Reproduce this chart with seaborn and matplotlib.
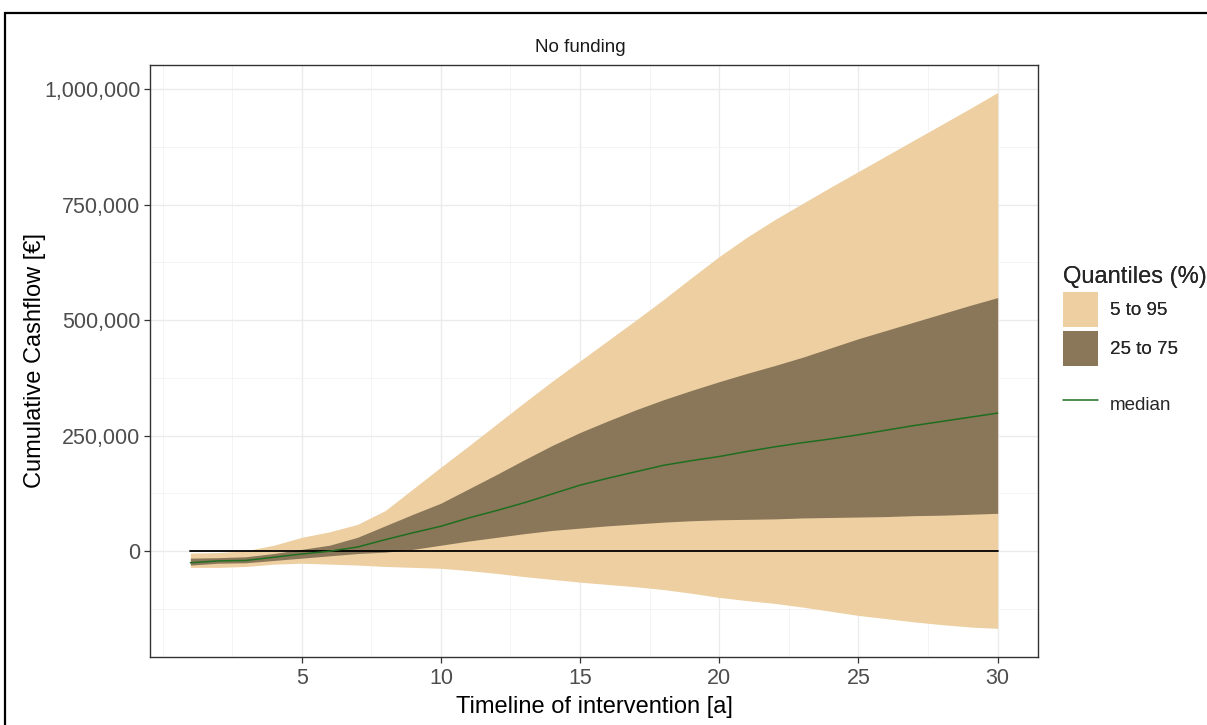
import numpy as np
import pandas as pd
import matplotlib
matplotlib.use("Agg")
import matplotlib.pyplot as plt
import seaborn as sns
from matplotlib.patches import Patch, Rectangle
from matplotlib.lines import Line2D
from matplotlib.ticker import FuncFormatter, MultipleLocator, FixedLocator

# ---- data ----
years = list(range(1, 31))
q05 = [-35000, -35000, -33000, -28000, -26000, -28000, -30000, -33000, -35000, -37000,
       -42000, -48000, -55000, -61000, -67000, -72000, -77000, -83000, -91000, -100000,
       -107000, -113000, -121000, -130000, -139000, -146000, -153000, -159000, -164000, -167000]
q25 = [-30000, -26000, -25000, -20000, -15000, -10000, -5000, -2000, 4000, 13000,
       22000, 30000, 38000, 45000, 50000, 55000, 59000, 63000, 66000, 68000,
       69000, 70000, 72000, 73000, 74000, 75000, 77000, 78000, 80000, 82000]
q50 = [-25000, -21000, -20000, -13000, -6000, 0, 9000, 25000, 40000, 54000,
       72000, 88000, 105000, 124000, 143000, 158000, 172000, 186000, 196000, 205000,
       216000, 226000, 235000, 243000, 252000, 262000, 272000, 281000, 290000, 299000]
q75 = [-15000, -14000, -12000, -5000, 4000, 13000, 30000, 55000, 80000, 104000,
       135000, 166000, 198000, 229000, 257000, 282000, 306000, 328000, 348000, 367000,
       385000, 402000, 420000, 440000, 460000, 478000, 496000, 514000, 532000, 549000]
q95 = [-4000, -3000, 1000, 13000, 30000, 42000, 58000, 88000, 135000, 182000,
       228000, 275000, 322000, 368000, 412000, 456000, 500000, 545000, 592000, 638000,
       680000, 718000, 753000, 788000, 822000, 856000, 890000, 924000, 958000, 993000]

panel_title = "No funding"
x_label = "Timeline of intervention [a]"
y_label = "Cumulative Cashflow [€]"
legend_title = "Quantiles (%)"
band_labels = ["5 to 95", "25 to 75"]
median_label = "median"

df = pd.DataFrame({"year": years, "q05": q05, "q25": q25, "q50": q50,
                   "q75": q75, "q95": q95, "zero": [0] * len(years)})

light = "#EDCFA1"
dark = "#8A7759"
green = "#1F6E1F"

sns.set_theme(style="white")
plt.rcParams["font.family"] = ["Liberation Sans", "DejaVu Sans"]

W, H = 1207, 725
fig = plt.figure(figsize=(W / 100, H / 100), dpi=100)
ax = fig.add_axes([150 / W, 1 - 657 / H, (1038 - 150) / W, (657 - 65) / H])

ax.fill_between(df["year"], df["q05"], df["q95"], color=light, lw=0, zorder=2)
ax.fill_between(df["year"], df["q25"], df["q75"], color=dark, lw=0, zorder=3)
sns.lineplot(data=df, x="year", y="zero", ax=ax, color="black", lw=1.3, zorder=4)
sns.lineplot(data=df, x="year", y="q50", ax=ax, color=green, lw=1.1, zorder=5)

ax.set_xlim(-0.45, 31.45)
ax.set_ylim(-229000, 1052500)
ax.xaxis.set_major_locator(FixedLocator([5, 10, 15, 20, 25, 30]))
ax.xaxis.set_minor_locator(FixedLocator([0, 2.5, 7.5, 12.5, 17.5, 22.5, 27.5]))
ax.yaxis.set_major_locator(MultipleLocator(250000))
ax.yaxis.set_minor_locator(FixedLocator([-125000, 125000, 375000, 625000, 875000]))
ax.yaxis.set_major_formatter(FuncFormatter(lambda v, p: f"{int(v):,}"))

ax.grid(which="major", color="#EBEBEB", lw=1.0, zorder=0)
ax.grid(which="minor", color="#F2F2F2", lw=0.6, zorder=0)
ax.set_axisbelow(True)
for s in ax.spines.values():
    s.set_color("#333333")
    s.set_linewidth(1.0)
    s.set_visible(True)

ax.tick_params(axis="both", which="major", length=4, width=0.9, color="#333333",
               labelcolor="#4D4D4D", labelsize=15.5, pad=3, direction="out",
               bottom=True, left=True)
ax.tick_params(axis="x", which="major", pad=4)
ax.tick_params(axis="both", which="minor", length=0)

ax.set_xlabel(x_label, fontsize=17, color="black", labelpad=5)
ax.set_ylabel(y_label, fontsize=17, color="black", va="center")
ax.yaxis.set_label_coords((35 - 150) / 888, 0.5)
ax.set_title(panel_title, fontsize=13.5, color="#1A1A1A", pad=9, x=(580 - 150) / 888)

# legends
h_bands = [Patch(facecolor=light, edgecolor="none"), Patch(facecolor=dark, edgecolor="none")]
leg1 = fig.legend(handles=h_bands, labels=band_labels, title=legend_title,
                  loc="upper left", bbox_to_anchor=(1063 / W, 1 - 266 / H),
                  frameon=False, fontsize=13.5, title_fontsize=17,
                  handlelength=1.87, handleheight=2.5, labelspacing=0.2,
                  handletextpad=0.64, borderpad=0, borderaxespad=0, alignment="left")
fig.add_artist(leg1)
h_med = [Line2D([0], [0], color=green, lw=1.1)]
leg2 = fig.legend(handles=h_med, labels=[median_label], loc="upper left",
                  bbox_to_anchor=(1063 / W, 1 - 390 / H), frameon=False,
                  fontsize=13.5, handlelength=1.87, handleheight=1.87,
                  handletextpad=0.64, borderpad=0, borderaxespad=0)

# outer frame
fig.add_artist(Rectangle((5 / W, -0.05), 1.2, 1 - 13 / H + 0.05, transform=fig.transFigure,
                         fill=False, edgecolor="black", lw=1.6, clip_on=False))

fig.savefig("out.png", dpi=100)
